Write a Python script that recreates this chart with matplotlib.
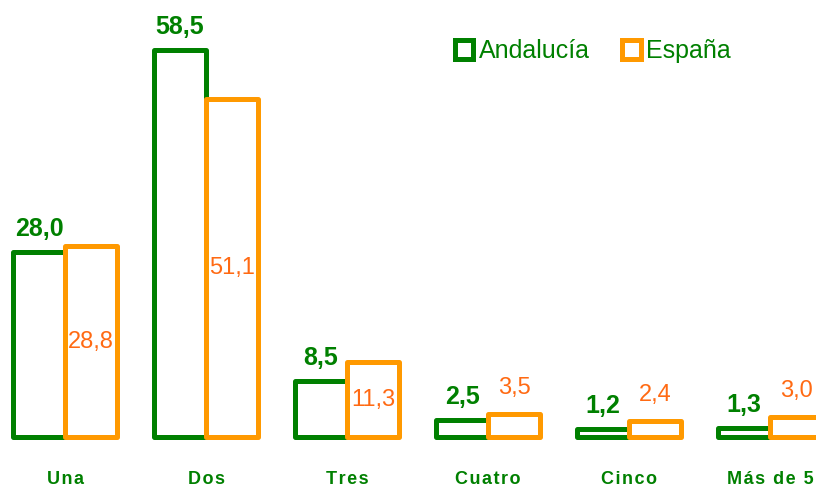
import matplotlib.pyplot as plt
import numpy as np

categories = ["Una", "Dos", "Tres", "Cuatro", "Cinco", "Más de 5"]
andalucia = [28.0, 58.5, 8.5, 2.5, 1.2, 1.3]
espana = [28.8, 51.1, 11.3, 3.5, 2.4, 3.0]

GREEN = "#008000"
ORANGE = "#FF9900"
ORANGE_TXT = "#FF6A13"

plt.rcParams['font.family'] = ['Liberation Sans', 'DejaVu Sans']

fig = plt.figure(figsize=(8.16, 4.87), dpi=100)
ax = fig.add_axes([0, 0, 1, 1])
ax.set_xlim(-0.461, 5.326)
ax.set_ylim(-7.56, 66.06)
ax.axis('off')

x = np.arange(len(categories))
w = 0.369
ax.bar(x - w / 2, andalucia, w, facecolor='white', edgecolor=GREEN, linewidth=3.6,
       joinstyle='round', label='Andalucía')
ax.bar(x + w / 2, espana, w, facecolor='white', edgecolor=ORANGE, linewidth=3.6,
       joinstyle='round', label='España')

for xi, v in zip(x, andalucia):
    ax.text(xi - w / 2, v + 1.7, f"{v:.1f}".replace('.', ','), ha='center', va='bottom',
            color=GREEN, fontsize=18, fontweight='bold')

for xi, v in zip(x, espana):
    s = f"{v:.1f}".replace('.', ',')
    if v >= 5:
        ax.text(xi + w / 2, v / 2, s, ha='center', va='center', color=ORANGE_TXT, fontsize=17)
    else:
        ax.text(xi + w / 2, v + 2.3, s, ha='center', va='bottom', color=ORANGE_TXT, fontsize=17)

# letter-spaced category labels
for xi, c in zip(x, categories):
    ax.text(xi, -6.4, "\u200a".join(c), ha='center', va='center', color=GREEN,
            fontsize=13, fontweight='bold')

leg = ax.legend(loc='upper left', bbox_to_anchor=(0.545, 0.94), ncol=2, frameon=False,
                fontsize=18, handlelength=0.75, handleheight=0.75, handletextpad=0.2,
                columnspacing=1.3, borderaxespad=0)
for t in leg.get_texts():
    t.set_color(GREEN)

fig.savefig("out.png", dpi=100)
